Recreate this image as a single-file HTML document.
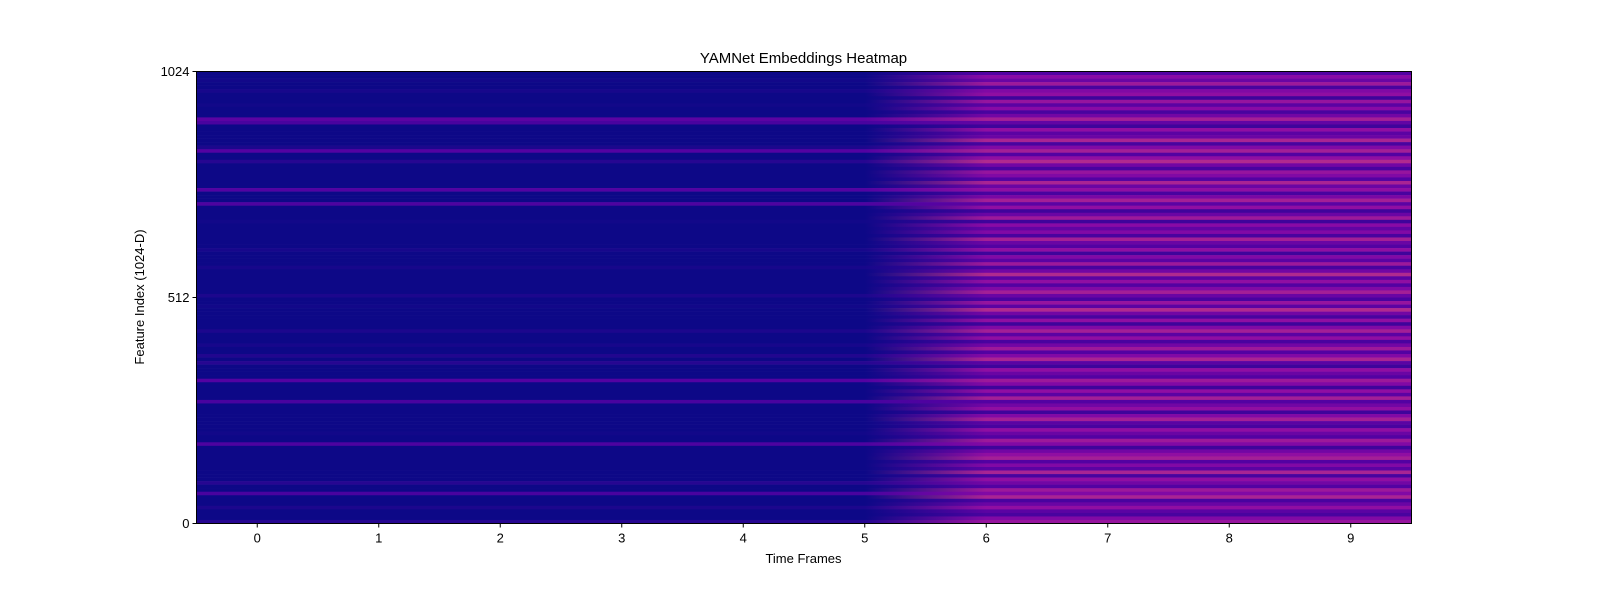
<!DOCTYPE html>
<html><head><meta charset="utf-8"><style>
body{margin:0;background:#fff;font-family:"Liberation Sans",sans-serif}
svg text{font-family:"Liberation Sans",sans-serif;fill:#000}
</style></head><body>
<svg id="chart" width="1600" height="600" xmlns="http://www.w3.org/2000/svg">
<defs id="defs"></defs>
<text x="803.5" y="63" font-size="15" text-anchor="middle">YAMNet Embeddings Heatmap</text>
<g id="cells"></g>
<rect x="196.5" y="71.5" width="1215" height="452" fill="none" stroke="#000" stroke-width="1"/>
<g id="xaxis"></g>
<g id="yaxis"></g>
<text x="803.5" y="563" font-size="13" text-anchor="middle">Time Frames</text>
<text transform="translate(144,297) rotate(-90)" font-size="13" text-anchor="middle">Feature Index (1024-D)</text>
</svg>
<script>
const frames=[0,1,2,3,4,5,6,7,8,9];
const xTicks=[0,1,2,3,4,5,6,7,8,9];
const yTicks=[0,512,1024];
// 128 feature bands (8 features each), top band = highest index
const lowBands=[0,0,0.01,0,0,0.02,0,0,0,0.01,0,0,0,0.16,0.12,0,0,0,0,0,0,0.03,0.14,0,0,0.05,0,0,0,0,0,0,0,0.14,0,0,0,0.13,0,0,0,0,0.01,0,0,0,0,0,0,0,0.02,0,0,0,0,0.02,0,0,0,0,0,0,0,0.03,0,0,0.01,0,0,0,0,0,0,0.03,0,0,0,0.02,0,0,0.04,0,0.05,0,0,0,0,0.14,0,0,0,0,0,0.12,0,0,0,0,0,0,0,0,0.01,0,0,0.13,0,0,0,0,0,0,0,0,0,0,0.05,0,0,0.12,0,0,0,0.03,0,0,0,0.05];
const highBands6=[0.14,0.28,0.2,0.34,0.12,0.26,0.3,0.1,0.32,0.16,0.28,0.12,0.22,0.36,0.18,0.1,0.3,0.16,0.2,0.38,0.12,0.26,0.36,0.14,0.3,0.4,0.22,0.12,0.32,0.26,0.14,0.38,0.2,0.3,0.12,0.24,0.36,0.16,0.3,0.1,0.2,0.34,0.1,0.28,0.18,0.26,0.12,0.36,0.2,0.14,0.3,0.1,0.26,0.16,0.34,0.12,0.22,0.4,0.16,0.3,0.14,0.26,0.36,0.2,0.12,0.32,0.16,0.4,0.22,0.12,0.3,0.1,0.26,0.36,0.16,0.3,0.12,0.22,0.34,0.14,0.26,0.38,0.16,0.1,0.3,0.2,0.14,0.34,0.26,0.1,0.3,0.16,0.36,0.14,0.22,0.3,0.1,0.26,0.36,0.16,0.12,0.3,0.2,0.14,0.34,0.26,0.1,0.22,0.3,0.36,0.14,0.26,0.16,0.38,0.12,0.3,0.22,0.14,0.34,0.26,0.38,0.12,0.2,0.3,0.16,0.12,0.26,0.32];
const highBands7=highBands6.map(v=>v);
const matrix=[lowBands,lowBands,lowBands,lowBands,lowBands,lowBands,highBands6,highBands7,highBands6,highBands7];
const NS="http://www.w3.org/2000/svg";
const X0=196.5,X1=1411.5,Y0=71.5,Y1=523.5;
const xScale=t=>X0+(t+0.5)/10*(X1-X0);
const yScale=f=>Y1-f/1024*(Y1-Y0);
const plasma=[[13,8,135],[84,2,163],[139,10,165],[185,50,137],[219,92,104],[244,136,73],[254,188,43],[240,249,33]];
function col(v){v=Math.max(0,Math.min(1,v));const p=v*(plasma.length-1),i=Math.min(plasma.length-2,Math.floor(p)),f=p-i;const a=plasma[i],b=plasma[i+1];return `rgb(${a.map((c,k)=>Math.round(c+(b[k]-c)*f)).join(',')})`;}
const defs=document.getElementById('defs'),cells=document.getElementById('cells');
const nb=lowBands.length;
for(let r=0;r<nb;r++){
  const g=document.createElementNS(NS,'linearGradient');
  g.setAttribute('id','g'+r);
  frames.forEach((t,i)=>{const s=document.createElementNS(NS,'stop');s.setAttribute('offset',(t+0.5)/10);s.setAttribute('stop-color',col(matrix[i][r]));g.appendChild(s);});
  defs.appendChild(g);
  const fTop=1024-r*1024/nb,fBot=1024-(r+1)*1024/nb;
  const rect=document.createElementNS(NS,'rect');
  
  
  rect.setAttribute('x',X0);rect.setAttribute('y',yScale(fTop));
  rect.setAttribute('width',X1-X0);rect.setAttribute('height',yScale(fBot)-yScale(fTop)+0.3);
  rect.setAttribute('fill','url(#g'+r+')');
  cells.appendChild(rect);
}
const xa=document.getElementById('xaxis');
xTicks.forEach(t=>{const x=xScale(t);
  const l=document.createElementNS(NS,'line');
  
  
  l.setAttribute('x1',x);l.setAttribute('x2',x);l.setAttribute('y1',Y1);l.setAttribute('y2',Y1+4);l.setAttribute('stroke','#000');xa.appendChild(l);
  const tx=document.createElementNS(NS,'text');
  
  
  tx.setAttribute('x',x);tx.setAttribute('y',Y1+19);tx.setAttribute('font-size','13');tx.setAttribute('text-anchor','middle');tx.textContent=t;xa.appendChild(tx);});
const ya=document.getElementById('yaxis');
yTicks.forEach(t=>{const y=yScale(t);
  const l=document.createElementNS(NS,'line');
  
  
  l.setAttribute('x1',X0-4);l.setAttribute('x2',X0);l.setAttribute('y1',y);l.setAttribute('y2',y);l.setAttribute('stroke','#000');ya.appendChild(l);
  const tx=document.createElementNS(NS,'text');
  
  
  tx.setAttribute('x',X0-7);tx.setAttribute('y',y+4.5);tx.setAttribute('font-size','13');tx.setAttribute('text-anchor','end');tx.textContent=t;ya.appendChild(tx);});
</script>
</body></html>
